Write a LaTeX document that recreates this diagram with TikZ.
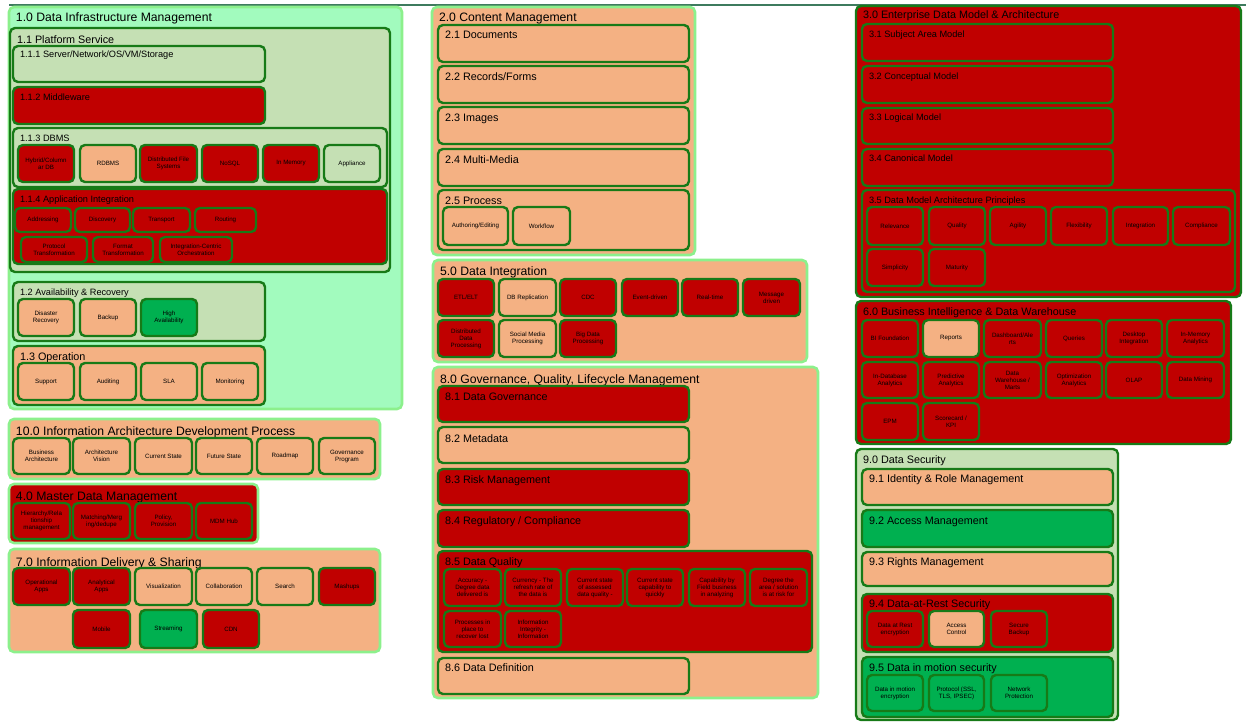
\documentclass[tikz,border=0pt]{standalone}
\usepackage{fontspec}
\setmainfont{Liberation Sans}
\usetikzlibrary{calc}

\definecolor{cRed}{HTML}{C00000}
\definecolor{cPeach}{HTML}{F4B183}
\definecolor{cSage}{HTML}{C5E0B4}
\definecolor{cGreen}{HTML}{00B050}
\definecolor{cMint}{HTML}{A2FBBE}
\definecolor{cEdge}{HTML}{177A17}
\definecolor{cGlow}{HTML}{8CF08C}
\definecolor{cRule}{HTML}{3E7B5E}

\tikzset{
  grpbox/.style={rectangle, rounded corners=5pt, inner sep=0pt, outer sep=0pt},
  outerG/.style={grpbox, draw=cGlow, line width=2.6pt},
  innerG/.style={grpbox, draw=cEdge, line width=2.4pt},
  leaf/.style={rectangle, rounded corners=5pt, draw=cEdge, line width=2.4pt,
    align=center, inner sep=1pt, font=\fontsize{6.2}{7}\selectfont},
  title/.style={inner sep=0pt, outer sep=0pt},
  tbig/.style={font=\fontsize{12.2}{14}\selectfont},
  tmid/.style={font=\fontsize{10.8}{13}\selectfont},
  tsmall/.style={font=\fontsize{9.2}{11}\selectfont},
}

% group box: name, style, x1, y1, x2, y2, title baseline, title font, title
\newcommand\grp[9]{%
  \node[#2, minimum width={#5-#3}, minimum height={#6-#4}] (#1) at ({(#3+#5)/2},{(#4+#6)/2}) {};
  \node[title, #8, anchor=base west] (#1t) at ({#3+7},{#7}) {#9};
}
% leaf box: name, fill, x1, y1, x2, y2, text
\newcommand\lf[7]{%
  \node[leaf, fill=#2, minimum width={#5-#3}, minimum height={#6-#4}] (#1) at ({(#3+#5)/2},{(#4+#6)/2}) {#7};
}

\begin{document}
\begin{tikzpicture}[x=1pt,y=-1pt]
\useasboundingbox (0,0) rectangle (1246,721);

% top rule
\coordinate (ruleL) at (9,5);
\coordinate (ruleR) at (1246,5);
\draw[cRule, line width=2pt] (ruleL) -- (ruleR);

% ---------------- 1.0 Data Infrastructure Management
\grp{n10}{outerG, fill=cMint}{9}{7}{402}{409}{21.4}{tbig}{1.0 Data Infrastructure Management}
\grp{n11}{innerG, fill=cSage}{10}{28}{390}{272}{43.2}{tmid}{1.1 Platform Service}
\grp{n111}{innerG, fill=cSage}{13}{46}{265}{82}{57.8}{tsmall}{1.1.1 Server/Network/OS/VM/Storage}
\grp{n112}{innerG, fill=cRed}{13}{87}{265}{124}{100.6}{tsmall}{1.1.2 Middleware}
\grp{n113}{innerG, fill=cSage}{13}{128}{387}{187}{141.3}{tsmall}{1.1.3 DBMS}
\lf{d1}{cRed}{18}{145}{74}{182}{Hybrid/Column\\ar DB}
\lf{d2}{cPeach}{80}{145}{136}{182}{RDBMS}
\lf{d3}{cRed}{140}{145}{197}{182}{Distributed File\\Systems}
\lf{d4}{cRed}{202}{145}{258}{182}{NoSQL}
\lf{d5}{cRed}{263}{145}{319}{182}{In Memory}
\lf{d6}{cSage}{324}{145}{380}{182}{Appliance}
\grp{n114}{innerG, fill=cRed}{13}{189}{387}{264}{202.3}{tsmall}{1.1.4 Application Integration}
\lf{a1}{cRed}{15}{208}{71}{232}{Addressing}
\lf{a2}{cRed}{75}{208}{130}{232}{Discovery}
\lf{a3}{cRed}{133}{208}{190}{232}{Transport}
\lf{a4}{cRed}{195}{208}{256}{232}{Routing}
\lf{a5}{cRed}{21}{237}{87}{262}{Protocol\\Transformation}
\lf{a6}{cRed}{93}{237}{153}{262}{Format\\Transformation}
\lf{a7}{cRed}{160}{237}{232}{262}{Integration-Centric\\Orchestration}
\grp{n12}{innerG, fill=cSage}{13}{282}{265}{341}{295.3}{tsmall}{1.2 Availability \& Recovery}
\lf{r1}{cPeach}{18}{299}{74}{336}{Disaster\\Recovery}
\lf{r2}{cPeach}{80}{299}{136}{336}{Backup}
\lf{r3}{cGreen}{141}{299}{197}{336}{High\\Availability}
\grp{n13}{innerG, fill=cPeach}{13}{346}{265}{405}{360.9}{tmid}{1.3 Operation}
\lf{o1}{cPeach}{18}{363}{74}{400}{Support}
\lf{o2}{cPeach}{80}{363}{136}{400}{Auditing}
\lf{o3}{cPeach}{141}{363}{197}{400}{SLA}
\lf{o4}{cPeach}{202}{363}{258}{400}{Monitoring}

% ---------------- 10.0 Information Architecture Development Process
\grp{n100}{outerG, fill=cPeach}{9}{419}{380}{479}{435.1}{tbig}{10.0 Information Architecture Development Process}
\lf{p1}{cPeach}{13}{438}{70}{474}{Business\\Architecture}
\lf{p2}{cPeach}{73}{438}{130}{474}{Architecture\\Vision}
\lf{p3}{cPeach}{135}{438}{192}{474}{Current State}
\lf{p4}{cPeach}{196}{438}{252}{474}{Future State}
\lf{p5}{cPeach}{257}{438}{313}{474}{Roadmap}
\lf{p6}{cPeach}{319}{438}{375}{474}{Governance\\Program}

% ---------------- 4.0 Master Data Management
\grp{n40}{outerG, fill=cRed}{9}{484}{258}{543}{500.4}{tbig}{4.0 Master Data Management}
\lf{m1}{cRed}{13}{503}{70}{539}{Hierarchy/Rela\\tionship\\management}
\lf{m2}{cRed}{73}{503}{130}{539}{Matching/Merg\\ing/dedupe}
\lf{m3}{cRed}{135}{503}{192}{539}{Policy,\\Provision}
\lf{m4}{cRed}{196}{503}{252}{539}{MDM Hub}

% ---------------- 7.0 Information Delivery & Sharing
\grp{n70}{outerG, fill=cPeach}{9}{549}{380}{652}{566.1}{tbig}{7.0 Information Delivery \& Sharing}
\lf{s1}{cRed}{13}{568}{70}{605}{Operational\\Apps}
\lf{s2}{cRed}{73}{568}{130}{605}{Analytical\\Apps}
\lf{s3}{cPeach}{135}{568}{192}{605}{Visualization}
\lf{s4}{cPeach}{196}{568}{252}{605}{Collaboration}
\lf{s5}{cPeach}{257}{568}{313}{605}{Search}
\lf{s6}{cRed}{319}{568}{375}{605}{Mashups}
\lf{s7}{cRed}{73}{610}{130}{648}{Mobile}
\lf{s8}{cGreen}{140}{610}{197}{648}{Streaming}
\lf{s9}{cRed}{203}{610}{259}{648}{CDN}

% ---------------- 2.0 Content Management
\grp{n20}{outerG, fill=cPeach}{432}{7}{695}{255}{21.1}{tbig}{2.0 Content Management}
\grp{n21}{innerG, fill=cPeach}{438}{25}{689}{62}{38.9}{tmid}{2.1 Documents}
\grp{n22}{innerG, fill=cPeach}{438}{66}{689}{103}{80.6}{tmid}{2.2 Records/Forms}
\grp{n23}{innerG, fill=cPeach}{438}{107}{689}{144}{121.6}{tmid}{2.3 Images}
\grp{n24}{innerG, fill=cPeach}{438}{149}{689}{186}{163.2}{tmid}{2.4 Multi-Media}
\grp{n25}{innerG, fill=cPeach}{438}{190}{689}{250}{204.9}{tmid}{2.5 Process}
\lf{c1}{cPeach}{443}{207}{508}{245}{Authoring/Editing}
\lf{c2}{cPeach}{513}{207}{570}{245}{Workflow}

% ---------------- 5.0 Data Integration
\grp{n50}{outerG, fill=cPeach}{433}{260}{807}{362}{275.4}{tbig}{5.0 Data Integration}
\lf{i1}{cRed}{438}{279}{494}{316}{ETL/ELT}
\lf{i2}{cPeach}{499}{279}{556}{316}{DB Replication}
\lf{i3}{cRed}{560}{279}{616}{316}{CDC}
\lf{i4}{cRed}{622}{279}{678}{316}{Event-driven}
\lf{i5}{cRed}{682}{279}{738}{316}{Real-time}
\lf{i6}{cRed}{743}{279}{800}{316}{Message\\driven}
\lf{i7}{cRed}{438}{320}{494}{357}{Distributed\\Data\\Processing}
\lf{i8}{cPeach}{499}{320}{556}{357}{Social Media\\Processing}
\lf{i9}{cRed}{560}{320}{616}{357}{Big Data\\Processing}

% ---------------- 8.0 Governance, Quality, Lifecycle Management
\grp{n80}{outerG, fill=cPeach}{433}{367}{818}{698}{383.4}{tbig}{8.0 Governance, Quality, Lifecycle Management}
\grp{n81}{innerG, fill=cRed}{438}{386}{689}{422}{400.6}{tmid}{8.1 Data Governance}
\grp{n82}{innerG, fill=cPeach}{438}{427}{689}{463}{442.2}{tmid}{8.2 Metadata}
\grp{n83}{innerG, fill=cRed}{438}{469}{689}{505}{483.2}{tmid}{8.3 Risk Management}
\grp{n84}{innerG, fill=cRed}{438}{510}{689}{547}{524.6}{tmid}{8.4 Regulatory / Compliance}
\grp{n85}{innerG, fill=cRed}{438}{551}{812}{652}{565.6}{tmid}{8.5 Data Quality}
\lf{q1}{cRed}{444}{569}{501}{606}{Accuracy -\\Degree data\\delivered is}
\lf{q2}{cRed}{505}{569}{561}{606}{Currency - The\\refresh rate of\\the data is}
\lf{q3}{cRed}{567}{569}{623}{606}{Current state\\of assessed\\data quality -}
\lf{q4}{cRed}{627}{569}{683}{606}{Current state\\capability to\\quickly}
\lf{q5}{cRed}{689}{569}{745}{606}{Capability by\\Field business\\in analyzing}
\lf{q6}{cRed}{750}{569}{807}{606}{Degree the\\area / solution\\is at risk for}
\lf{q7}{cRed}{444}{611}{501}{647}{Processes in\\place to\\recover lost}
\lf{q8}{cRed}{505}{611}{561}{647}{Information\\Integrity -\\Information}
\grp{n86}{innerG, fill=cPeach}{438}{658}{689}{694}{671.6}{tmid}{8.6 Data Definition}

% ---------------- 3.0 Enterprise Data Model & Architecture
\grp{n30}{innerG, fill=cRed}{856}{6}{1241}{297}{18.9}{tmid}{3.0 Enterprise Data Model \& Architecture}
\grp{n31}{innerG, fill=cRed}{862}{24}{1113}{61}{37.3}{tsmall}{3.1 Subject Area Model}
\grp{n32}{innerG, fill=cRed}{862}{66}{1113}{103}{79.3}{tsmall}{3.2 Conceptual Model}
\grp{n33}{innerG, fill=cRed}{862}{108}{1113}{144}{120.6}{tsmall}{3.3 Logical Model}
\grp{n34}{innerG, fill=cRed}{862}{149}{1113}{186}{161.6}{tsmall}{3.4 Canonical Model}
\grp{n35}{innerG, fill=cRed}{862}{190}{1235}{292}{203.3}{tsmall}{3.5 Data Model Architecture Principles}
\lf{e1}{cRed}{867}{207}{923}{245}{Relevance}
\lf{e2}{cRed}{929}{207}{985}{245}{Quality}
\lf{e3}{cRed}{990}{207}{1046}{245}{Agility}
\lf{e4}{cRed}{1051}{207}{1107}{245}{Flexibility}
\lf{e5}{cRed}{1113}{207}{1168}{245}{Integration}
\lf{e6}{cRed}{1173}{207}{1230}{245}{Compliance}
\lf{e7}{cRed}{867}{249}{923}{286}{Simplicity}
\lf{e8}{cRed}{929}{249}{985}{286}{Maturity}

% ---------------- 6.0 Business Intelligence & Data Warehouse
\grp{n60}{innerG, fill=cRed}{856}{301}{1231}{444}{315.6}{tmid}{6.0 Business Intelligence \& Data Warehouse}
\lf{b1}{cRed}{862}{320}{918}{357}{BI Foundation}
\lf{b2}{cPeach}{923}{320}{979}{357}{Reports}
\lf{b3}{cRed}{984}{320}{1041}{357}{Dashboard/Ale\\rts}
\lf{b4}{cRed}{1046}{320}{1102}{357}{Queries}
\lf{b5}{cRed}{1106}{320}{1162}{357}{Desktop\\Integration}
\lf{b6}{cRed}{1167}{320}{1224}{357}{In-Memory\\Analytics}
\lf{b7}{cRed}{862}{362}{918}{398}{In-Database\\Analytics}
\lf{b8}{cRed}{923}{362}{979}{398}{Predictive\\Analytics}
\lf{b9}{cRed}{984}{362}{1041}{398}{Data\\Warehouse /\\Marts}
\lf{b10}{cRed}{1046}{362}{1102}{398}{Optimization\\Analytics}
\lf{b11}{cRed}{1106}{362}{1162}{398}{OLAP}
\lf{b12}{cRed}{1167}{362}{1224}{398}{Data Mining}
\lf{b13}{cRed}{862}{403}{918}{440}{EPM}
\lf{b14}{cRed}{923}{403}{979}{440}{Scorecard /\\KPI}

% ---------------- 9.0 Data Security
\grp{n90}{innerG, fill=cSage}{856}{449}{1118}{720}{463.9}{tmid}{9.0 Data Security}
\grp{n91}{innerG, fill=cPeach}{862}{469}{1113}{505}{482.9}{tmid}{9.1 Identity \& Role Management}
\grp{n92}{innerG, fill=cGreen}{862}{510}{1113}{547}{524.9}{tmid}{9.2 Access Management}
\grp{n93}{innerG, fill=cPeach}{862}{552}{1113}{586}{565.6}{tmid}{9.3 Rights Management}
\grp{n94}{innerG, fill=cRed}{862}{594}{1113}{652}{607.2}{tmid}{9.4 Data-at-Rest Security}
\lf{k1}{cRed}{867}{611}{923}{647}{Data at Rest\\encryption}
\lf{k2}{cPeach}{929}{611}{984}{647}{Access\\Control}
\lf{k3}{cRed}{991}{611}{1047}{647}{Secure\\Backup}
\grp{n95}{innerG, fill=cGreen}{862}{657}{1113}{717}{671.6}{tmid}{9.5 Data in motion security}
\lf{k4}{cGreen}{867}{675}{923}{711}{Data in motion\\encryption}
\lf{k5}{cGreen}{929}{675}{984}{711}{Protocol (SSL,\\TLS, IPSEC)}
\lf{k6}{cGreen}{991}{675}{1047}{711}{Network\\Protection}

\end{tikzpicture}
\end{document}
